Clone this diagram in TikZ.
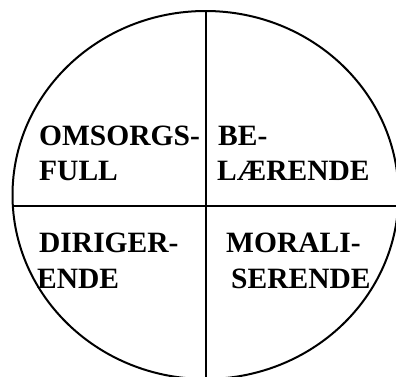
\documentclass[tikz,border=0pt]{standalone}
\usepackage{fontspec}
\newfontfamily\quadfont{Liberation Serif}
\begin{document}
\begin{tikzpicture}[x=1pt,y=-1pt,
	  word/.style={anchor=base west,inner sep=0pt,font=\quadfont\bfseries\fontsize{29.5}{31}\selectfont},
	  rim/.style={line width=2pt}]
	  \useasboundingbox (0,0) rectangle (396,376);
	  \clip (0,0) rectangle (396,376);
	  \draw[rim] (205.5,195) ellipse (193 and 184);
	  \coordinate (top) at (206,11);
	  \coordinate (bottom) at (206,379);
	  \coordinate (left) at (12.8,206);
	  \coordinate (right) at (398.2,206);
	  \draw[rim] (top) -- (bottom);
	  \draw[rim] (left) -- (right);
	  \node[word] (omsorg) at (39,145) {OMSORGS-};
	  \node[word] (full) at (39,180.5) {FULL};
	  \node[word] (be) at (218,145) {BE-};
	  \node[word] (laerende) at (217,180.5) {LÆRENDE};
	  \node[word] (diriger) at (39,252) {DIRIGER-};
	  \node[word] (ende) at (37,288) {ENDE};
	  \node[word] (morali) at (226,252) {MORALI-};
	  \node[word] (serende) at (231,288) {SERENDE};
	\end{tikzpicture}
\end{document}
